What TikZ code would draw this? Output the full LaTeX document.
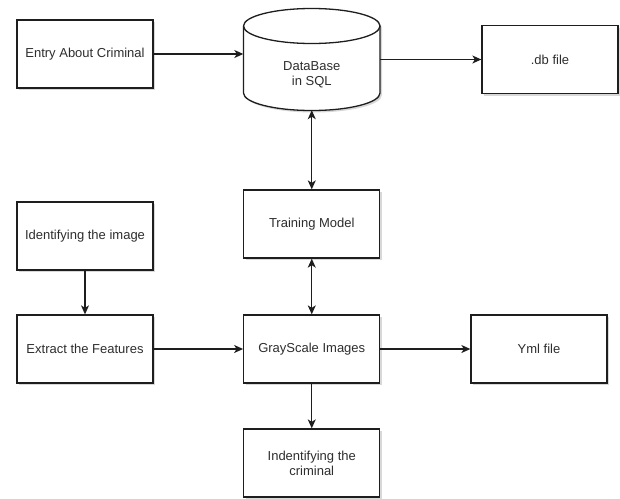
\documentclass[tikz,border=0pt]{standalone}
\usepackage{fontspec}
\setmainfont{Liberation Sans}
\usetikzlibrary{arrows.meta,shadows}
\definecolor{inkline}{HTML}{1E1E1E}
\definecolor{inktext}{HTML}{2E2E2E}
\begin{document}
\begin{tikzpicture}[x=1pt,y=-1pt,
  font=\fontsize{13}{15}\selectfont,
  tip/.tip={Stealth[length=9pt,width=8pt,inset=2.5pt]},
  boxshadow/.style={drop shadow={shadow xshift=2pt,shadow yshift=-2pt,opacity=0.25,fill=black!60}},
  procbox/.style={draw=inkline,line width=1.3pt,fill=white,text=inktext,
    minimum width=136pt,minimum height=68pt,inner sep=2pt,align=center,boxshadow},
  flow/.style={draw=inkline,line width=1.2pt,-tip},
  bothflow/.style={draw=inkline,line width=1.2pt,tip-tip}]
\useasboundingbox (0,0) rectangle (620,498);
\fill[white] (0,0) rectangle (620,498);

% database cylinder
\def\cx{311.75}\def\rx{68.25}\def\ty{26}\def\by{93}\def\ry{17.5}
\fill[black!60,opacity=0.25,shift={(2,2)}]
  (\cx-\rx,\ty) -- (\cx-\rx,\by) arc[start angle=180,end angle=0,x radius=\rx,y radius=\ry]
  -- (\cx+\rx,\ty) arc[start angle=0,end angle=180,x radius=\rx,y radius=-\ry] -- cycle;
\filldraw[draw=inkline,fill=white,line width=1.3pt]
  (\cx-\rx,\ty) -- (\cx-\rx,\by) arc[start angle=180,end angle=0,x radius=\rx,y radius=\ry]
  -- (\cx+\rx,\ty) arc[start angle=0,end angle=180,x radius=\rx,y radius=-\ry] -- cycle;
\draw[draw=inkline,line width=1.3pt]
  (\cx-\rx,\ty) arc[start angle=180,end angle=0,x radius=\rx,y radius=\ry];
\node[minimum width=136.5pt,minimum height=101pt,inner sep=0pt] (db) at (\cx,59.5) {};
\node[text=inktext,align=center] (dblabel) at (\cx,75) {DataBase\\in SQL};

% process boxes
\node[procbox] (entry) at (85,54) {Entry About Criminal};
\node[procbox] (dbfile) at (550,59.5) {.db file};
\node[procbox] (train) at (311.75,224) {Training Model};
\node[procbox] (identimg) at (85,236) {Identifying the image};
\node[procbox] (extract) at (85,349) {Extract the Features};
\node[procbox] (gray) at (311.75,349) {GrayScale Images};
\node[procbox] (yml) at (539,349) {Yml file};
\node[procbox] (crim) at (311.75,463) {Indentifying the\\criminal};

% connectors
\draw[flow] (entry.east) -- (entry.east -| db.west);
\draw[flow] (db.east) -- (dbfile.west);
\draw[bothflow] (db.south) -- (train.north);
\draw[bothflow] (train.south) -- (gray.north);
\draw[flow] (identimg.south) -- (extract.north);
\draw[flow] (extract.east) -- (gray.west);
\draw[flow] (gray.east) -- (yml.west);
\draw[flow] (gray.south) -- (crim.north);
\end{tikzpicture}
\end{document}
